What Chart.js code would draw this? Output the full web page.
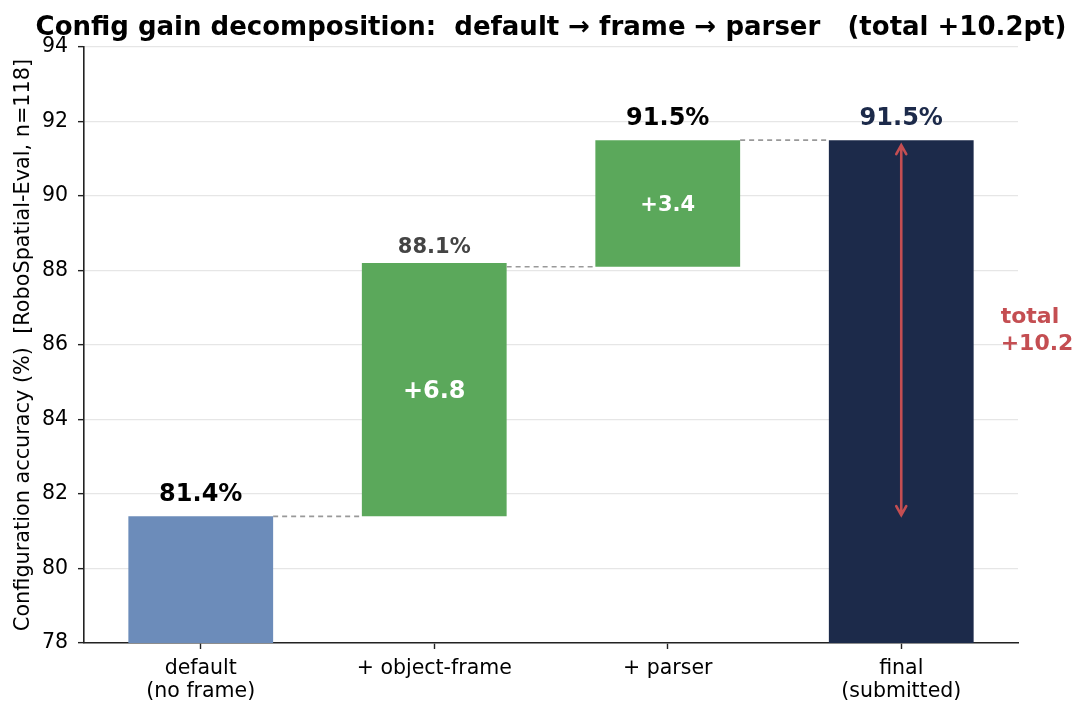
<!DOCTYPE html>
<html>
<head>
<meta charset="utf-8">
<script src="https://cdn.jsdelivr.net/npm/chart.js@4/dist/chart.umd.min.js"></script>
<style>
  body { margin: 0; background: #fff; }
  canvas { display: block; }
</style>
</head>
<body>
<canvas id="myChart" width="1092" height="716"></canvas>
<script>
// waterfall data
var categories = [["default", "(no frame)"], "+ object-frame", "+ parser", ["final", "(submitted)"]];
var barLow = [78, 81.4, 88.1, 78];
var barHigh = [81.4, 88.2, 91.5, 91.5];
var topLabels = ["81.4%", "88.1%", "91.5%", "91.5%"];
var deltaLabels = [null, "+6.8", "+3.4", null];
var connectorLevels = [81.4, 88.1, 91.5];
var totalGain = 10.2;
var yTicks = [78, 80, 82, 84, 86, 88, 90, 92, 94];

var barColors = ["#6c8cba", "#5ba85b", "#5ba85b", "#1c2a4a"];
var labelColors = ["#000000", "#444444", "#000000", "#1c2a4a"];
var labelFonts = ["bold 24px 'DejaVu Sans'", "bold 21px 'DejaVu Sans'", "bold 24px 'DejaVu Sans'", "bold 24px 'DejaVu Sans'"];
var labelGap = [22, 16, 21, 21];
var arrowColor = "#c44e52";

var floating = [];
for (var i = 0; i < categories.length; i++) {
	floating.push([barLow[i], barHigh[i]]);
}

var extras = {
	id: "extras",
	afterDatasetsDraw: function(chart) {
		var c = chart.ctx;
		var area = chart.chartArea;
		var y = chart.scales.y;
		var bars = chart.getDatasetMeta(0).data;

		// dashed connectors
		c.save();
		c.strokeStyle = "#999999";
		c.lineWidth = 1.6;
		c.setLineDash([5, 4]);
		for (var i = 0; i < connectorLevels.length; i++) {
			var yy = y.getPixelForValue(connectorLevels[i]);
			c.beginPath();
			c.moveTo(bars[i].x + bars[i].width / 2, yy);
			c.lineTo(bars[i + 1].x - bars[i + 1].width / 2, yy);
			c.stroke();
		}
		c.restore();

		// top labels and deltas
		c.save();
		c.textAlign = "center";
		c.textBaseline = "middle";
		for (var i = 0; i < bars.length; i++) {
			var top = y.getPixelForValue(barHigh[i]);
			c.font = labelFonts[i];
			c.fillStyle = labelColors[i];
			c.fillText(topLabels[i], bars[i].x, top - labelGap[i]);
			if (deltaLabels[i]) {
				var mid = (y.getPixelForValue(barLow[i]) + top) / 2;
				c.font = i == 1 ? "bold 24px 'DejaVu Sans'" : "bold 21px 'DejaVu Sans'";
				c.fillStyle = "#ffffff";
				c.fillText(deltaLabels[i], bars[i].x, mid + 2);
			}
		}
		c.restore();

		// total arrow in final bar
		var last = bars.length - 1;
		var ax = bars[last].x;
		var yTop = y.getPixelForValue(barHigh[last]) + 5;
		var yBot = y.getPixelForValue(barHigh[last] - totalGain) - 5;
		c.save();
		c.strokeStyle = arrowColor;
		c.lineWidth = 2.6;
		c.lineCap = "round";
		c.beginPath();
		c.moveTo(ax, yTop);
		c.lineTo(ax, yBot);
		c.moveTo(ax - 5, yTop + 9);
		c.lineTo(ax, yTop);
		c.lineTo(ax + 5, yTop + 9);
		c.moveTo(ax - 5, yBot - 9);
		c.lineTo(ax, yBot);
		c.lineTo(ax + 5, yBot - 9);
		c.stroke();

		// total text
		var midY = (y.getPixelForValue(barHigh[last]) + y.getPixelForValue(barHigh[last] - totalGain)) / 2;
		c.font = "bold 22px 'DejaVu Sans'";
		c.fillStyle = arrowColor;
		c.textAlign = "left";
		c.textBaseline = "middle";
		c.fillText("total", bars[last].x + bars[last].width / 2 + 27, midY - 13);
		c.fillText("+" + totalGain.toFixed(1), bars[last].x + bars[last].width / 2 + 27, midY + 14);
		c.restore();

		// title and y axis title
		c.save();
		c.fillStyle = "#000";
		c.textAlign = "center";
		c.textBaseline = "middle";
		c.font = "bold 26px 'DejaVu Sans'";
		c.fillText("Config gain decomposition:  default \u2192 frame \u2192 parser   (total +10.2pt)", (area.left + area.right) / 2, 28);
		c.translate(24, (area.top + area.bottom) / 2);
		c.rotate(-Math.PI / 2);
		c.font = "20.8px 'DejaVu Sans'";
		c.fillText("Configuration accuracy (%)  [RoboSpatial-Eval, n=118]", 0, 0);
		c.restore();
	}
};

var ctx = document.getElementById("myChart");
var myChart = new Chart(ctx, {
	type: "bar",
	data: {
		labels: categories,
		datasets: [{
			data: floating,
			backgroundColor: barColors,
			borderWidth: 0,
			barPercentage: 0.62,
			categoryPercentage: 1
		}]
	},
	options: {
		responsive: false,
		devicePixelRatio: 1,
		animation: false,
		layout: { padding: { left: 0, right: 74, top: 47, bottom: 0 } },
		plugins: {
			legend: { display: false },
			tooltip: { enabled: false }
		},
		scales: {
			x: {
				grid: { display: true, offset: false, drawOnChartArea: false, tickLength: 6, tickColor: "#222", tickWidth: 1.4 },
				border: { color: "#222", width: 1.6 },
				ticks: { color: "#000", font: { family: "DejaVu Sans", size: 20.5, lineHeight: 1.08 }, padding: 9 },
				afterFit: function(scale) { scale.height = 73; }
			},
			y: {
				min: 78,
				max: 94,
				afterBuildTicks: function(scale) {
					scale.ticks = yTicks.map(function(v) { return { value: v }; });
				},
				grid: { color: "#e6e6e6", lineWidth: 1.3, tickLength: 6, tickColor: "#222", tickWidth: 1.4 },
				border: { color: "#222", width: 1.6 },
				ticks: { color: "#000", font: { family: "DejaVu Sans", size: 20.5 }, padding: 10 },
				afterFit: function(scale) { scale.width = 84; }
			}
		}
	},
	plugins: [extras]
});
</script>
</body>
</html>
